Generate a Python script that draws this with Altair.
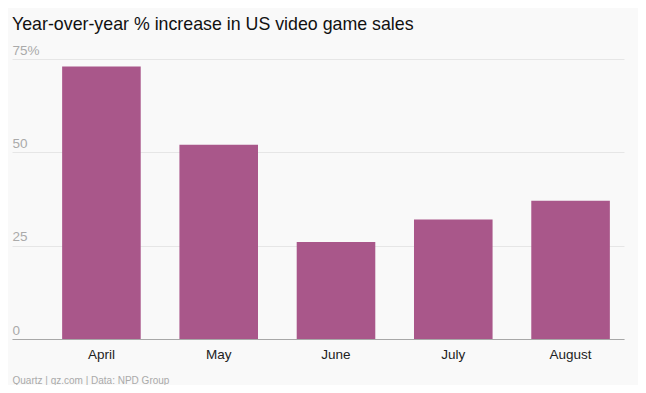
import altair as alt
import pandas as pd

months = ["April", "May", "June", "July", "August"]
increase = [73, 52, 26, 32, 37]

df = pd.DataFrame({"month": months, "value": increase})

FONT = "Liberation Sans"

chart = alt.Chart(df).mark_bar(color="#a9578a").encode(
    x=alt.X(
        "month:N",
        sort=months,
        scale=alt.Scale(paddingInner=0.33, paddingOuter=0.274, align=0.78),
        axis=alt.Axis(
            title="Quartz | qz.com | Data: NPD Group",
            titleAnchor="start",
            titleAlign="left",
            titleX=0,
            titleY=41,
            titleBaseline="middle",
            titleFont=FONT,
            titleFontSize=10,
            titleFontWeight="normal",
            titleColor="#aaaaaa",
            labelAngle=0,
            labelFont=FONT,
            labelFontSize=13.5,
            labelColor="#222222",
            labelPadding=8,
            ticks=False,
            domainColor="#a8a8a8",
            domainWidth=1,
        ),
    ),
    y=alt.Y(
        "value:Q",
        scale=alt.Scale(domain=[0, 75], nice=False),
        axis=alt.Axis(
            title=None,
            values=[0, 25, 50, 75],
            labelExpr="datum.value == 75 ? '75%' : datum.label",
            labelAlign="left",
            labelBaseline="bottom",
            labelPadding=0,
            labelOffset=-2,
            labelFont=FONT,
            labelFontSize=13.5,
            labelColor="#aaaaaa",
            ticks=False,
            domain=False,
            gridColor="#e6e6e6",
            gridWidth=1,
        ),
    ),
).properties(
    width=612,
    height=280,
    title=alt.TitleParams(
        "Year-over-year % increase in US video game sales",
        anchor="start",
        frame="group",
        font=FONT,
        fontSize=17.8,
        fontWeight="normal",
        color="#111111",
        offset=9,
    ),
    autosize=alt.AutoSizeParams(type="none"),
    padding={"left": 4, "top": 51, "right": 14, "bottom": 46},
    background="#f9f9f9",
).configure_view(stroke=None)

chart.save("out.html", embed_options={"renderer": "svg", "actions": False})
